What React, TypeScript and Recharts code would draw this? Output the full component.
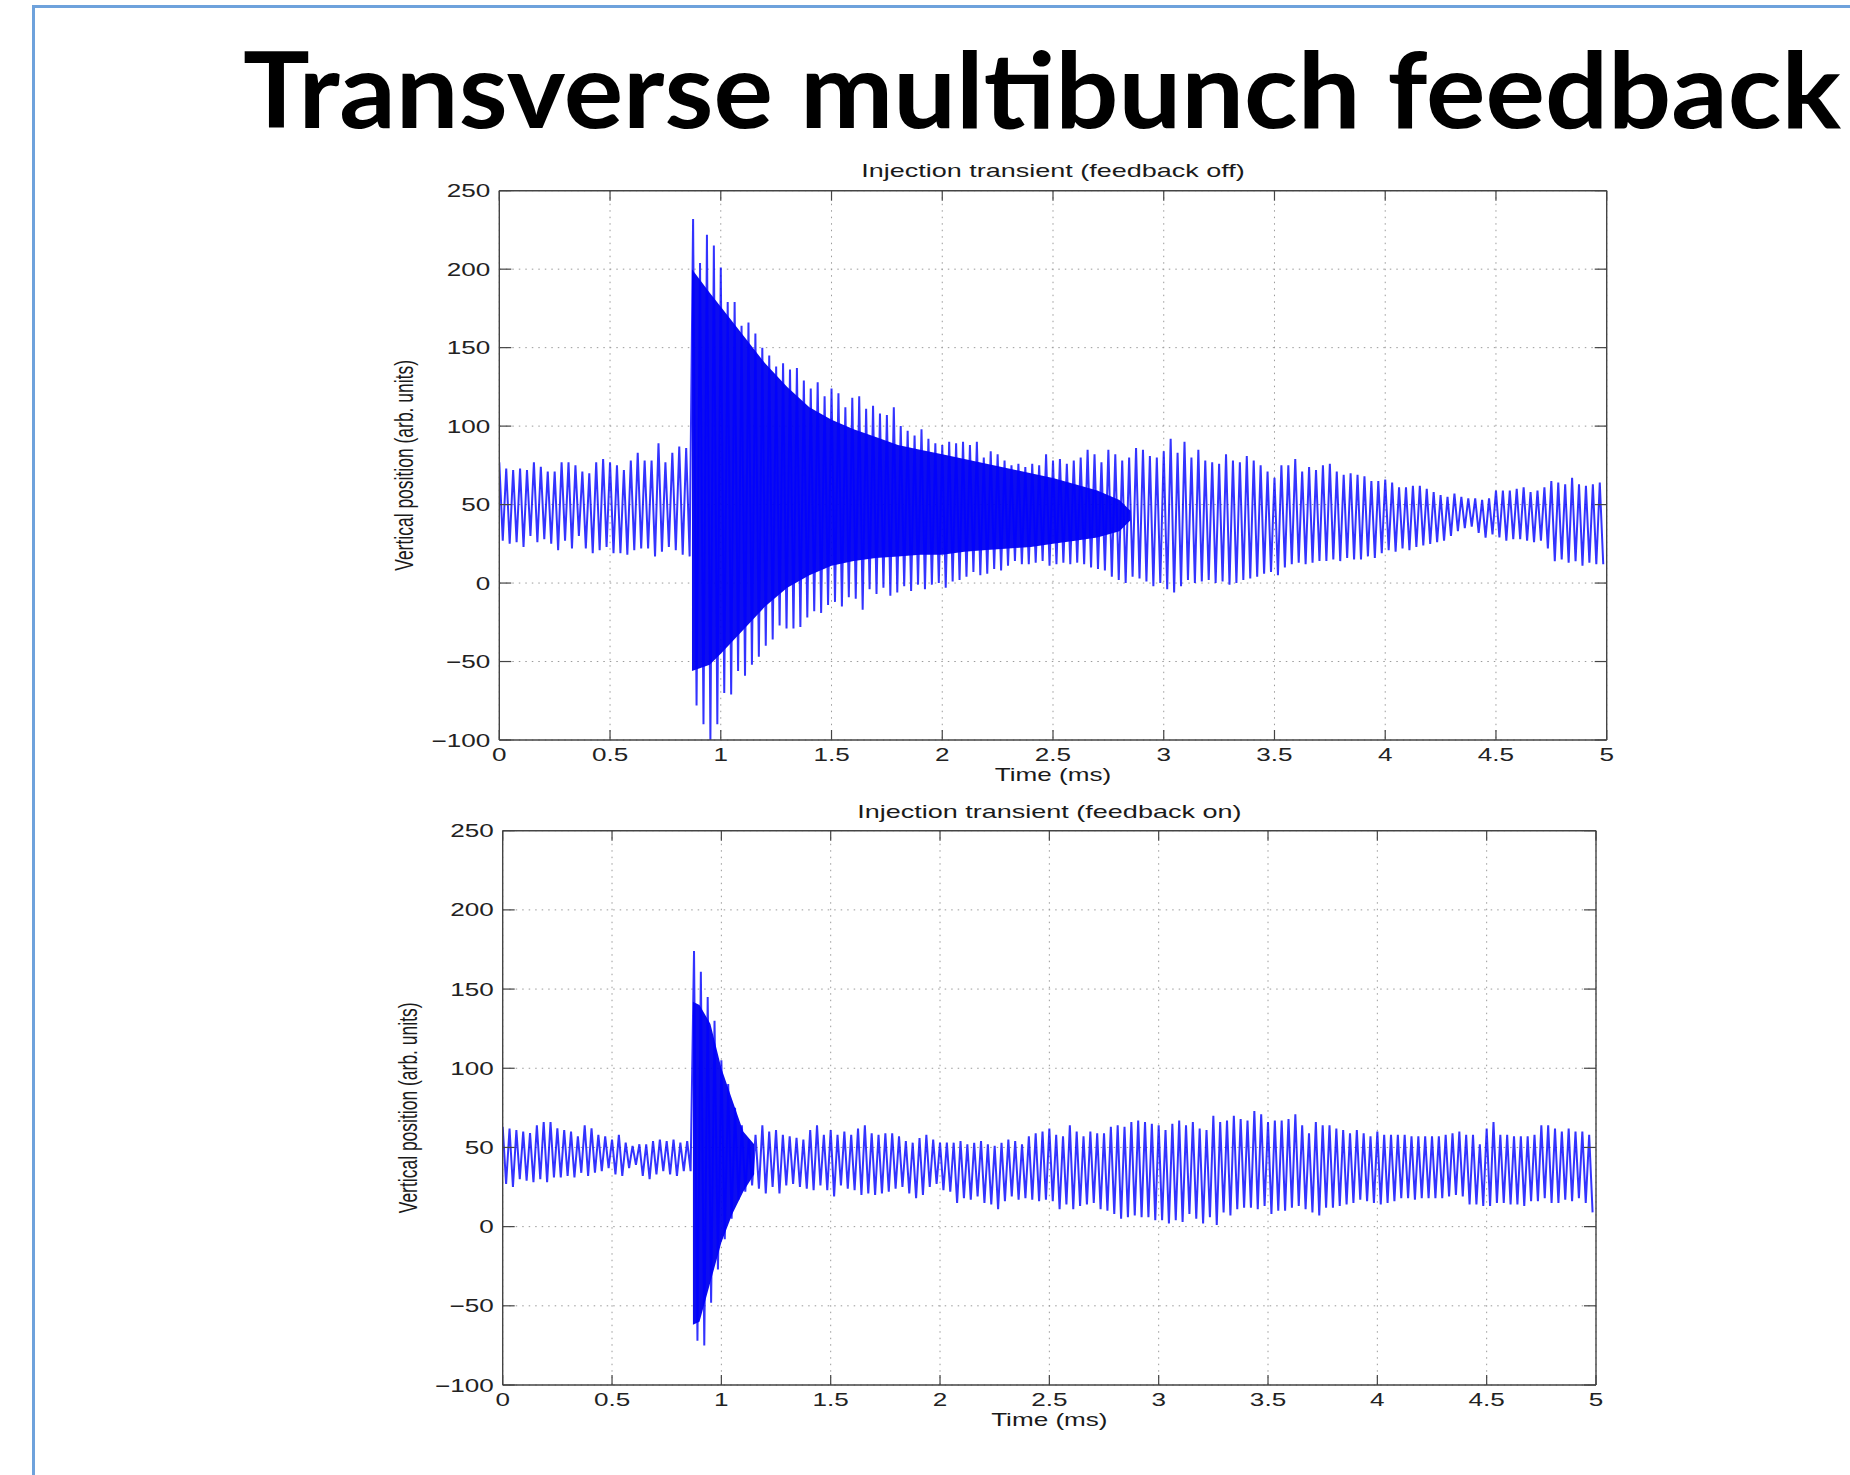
import React from "react";
import { ComposedChart, Line, Area, XAxis, YAxis, CartesianGrid } from "recharts";

// ---------- data ----------
const STEP = 5 / 160; // ms between successive oscillation peaks
const X_TICKS = [0, 0.5, 1, 1.5, 2, 2.5, 3, 3.5, 4, 4.5, 5];
const Y_TICKS = [-100, -50, 0, 50, 100, 150, 200, 250];

// Injection transient, feedback off: upper / lower peaks of the oscillation
const offHigh = [
  77, 73, 72, 73, 72, 77, 74, 71, 71, 77, 77, 75, 71, 70, 77, 79, 77, 75, 72, 78, 83, 78, 78, 89, 77, 83, 87, 86,
  232, 204, 222, 215, 201, 179, 179, 164, 166, 159, 150, 145, 138, 140, 136, 137, 129, 124, 128, 119, 124, 121, 112, 118, 119, 111, 113,
  108, 107, 112, 100, 97, 94, 98, 92, 89, 88, 90, 89, 90, 88, 90, 80, 84, 82, 78, 75, 76, 74, 76, 75, 82, 78, 79, 76, 78, 80, 85, 82, 77, 85, 82, 78, 80, 86, 85, 81, 80, 84,
  92, 83, 90, 80, 85, 78, 77, 76, 82, 78, 77, 81, 78, 75, 71, 67, 75, 75, 79, 71, 74, 72, 75, 76, 71, 69, 70, 69, 68, 65, 65, 66, 64, 61, 61, 62, 62, 60, 58, 56, 55, 57, 55, 54, 54, 53, 54, 59, 59, 59, 60, 61, 58, 59, 61, 65, 64, 63, 67, 63, 62, 63, 64,
];
const offLow = [
  27, 25, 26, 23, 30, 26, 28, 25, 21, 27, 22, 30, 22, 19, 21, 23, 19, 19, 18, 21, 22, 22, 17, 20, 23, 21, 18, 17,
  -78, -90, -100, -90, -70, -71, -56, -59, -52, -47, -40, -36, -27, -29, -29, -28, -22, -18, -19, -14, -12, -15, -9, -10, -17, -4, -7,
  -3, -8, -6, -2, -5, -1, -4, -1, 0, -3, 1, 2, 4, 7, 5, 6, 9, 8, 11, 14, 12, 12, 13, 14, 11, 12, 13, 12, 13, 12, 10, 9, 8, 4, 2, 0, 4, 3, 1, -2, 0, -4,
  -6, -2, 2, 0, 1, 2, 0, 1, -1, 0, 2, 3, 4, 6, 7, 5, 10, 12, 13, 12, 13, 14, 14, 15, 14, 16, 15, 15, 17, 16, 19, 21, 20, 22, 21, 23, 24, 25, 26, 27, 30, 33, 35, 36, 32, 29, 31, 29, 27, 28, 28, 27, 26, 27, 22, 14, 15, 13, 14, 11, 13, 12, 12,
];
// dense (solid) core of the feedback-off transient
const offCoreTime = [0.87, 0.95, 1.0, 1.1, 1.2, 1.3, 1.4, 1.5, 1.6, 1.7, 1.8, 1.9, 2.0, 2.1, 2.2, 2.3, 2.4, 2.5, 2.6, 2.7, 2.8, 2.85];
const offCoreLow = [-56, -52, -45, -30, -15, -3, 5, 11, 14, 16, 17, 18, 18, 20, 21, 22, 23, 25, 27, 29, 33, 40];
const offCoreHigh = [200, 185, 176, 158, 140, 125, 112, 104, 98, 93, 88, 85, 82, 79, 76, 73, 70, 67, 63, 59, 53, 46];

// Injection transient, feedback on
const onHigh = [
  63, 62, 61, 60, 59, 64, 66, 66, 62, 61, 60, 57, 64, 62, 58, 57, 55, 58, 53, 51, 52, 52, 54, 55, 54, 55, 53, 54,
  174, 161, 145, 130, 105, 90, 75, 64, 55, 58, 64, 60, 61, 58, 57, 56, 55, 61, 64, 58, 61, 58, 60, 58, 62, 64, 59, 58, 59, 59, 57, 54, 53, 56, 58, 55, 53, 53, 53, 54, 52, 53, 54, 52, 51, 53, 55, 54, 52, 57, 59, 60, 62, 58, 57, 64, 60, 57, 60, 59, 59, 63, 64, 63, 66, 67, 66, 65, 64,
  61, 65, 67, 64, 66, 62, 61, 70, 66, 67, 70, 68, 67, 73, 71, 66, 67, 67, 68, 71, 64, 59, 66, 64, 64, 62, 61, 59, 61, 59, 57, 60, 58, 58, 58, 58, 57, 57, 57, 57, 57, 58, 59, 60, 58, 58, 52, 62, 66, 58, 58, 57, 57, 57, 58, 64, 64, 62, 60, 62, 60, 60, 58,
];
const onLow = [
  27, 25, 30, 29, 28, 30, 28, 31, 31, 32, 31, 34, 32, 34, 35, 37, 33, 32, 37, 39, 32, 30, 33, 35, 33, 32, 35, 35,
  -72, -75, -48, -27, -8, 5, 17, 22, 26, 24, 21, 25, 21, 26, 27, 25, 24, 23, 26, 23, 19, 26, 24, 23, 20, 21, 20, 21, 22, 24, 25, 21, 18, 20, 25, 27, 23, 22, 15, 18, 17, 19, 15, 14, 11, 16, 19, 17, 18, 17, 16, 17, 16, 11, 14, 11, 13, 14, 15, 11, 10, 8, 5, 6, 7, 6, 6, 4, 4,
  2, 4, 3, 8, 5, 2, 6, 1, 9, 7, 11, 12, 12, 11, 13, 8, 10, 10, 12, 13, 11, 9, 7, 12, 12, 13, 14, 15, 17, 16, 15, 14, 15, 16, 18, 18, 17, 18, 18, 18, 18, 19, 20, 19, 14, 14, 13, 13, 15, 15, 14, 14, 13, 16, 16, 18, 15, 15, 17, 16, 18, 15, 9,
];
const onCoreTime = [0.87, 0.9, 0.95, 1.0, 1.05, 1.1, 1.15];
const onCoreLow = [-62, -60, -35, -10, 8, 22, 33];
const onCoreHigh = [142, 140, 128, 100, 80, 60, 52];

// ---------- helpers ----------
function zigzag(hi: number[], lo: number[]) {
  const pts: { t: number; v: number }[] = [];
  for (let i = 0; i < hi.length; i++) {
    pts.push({ t: i * STEP, v: hi[i] });
    pts.push({ t: i * STEP + STEP / 2, v: lo[i] });
  }
  return pts;
}
function band(t: number[], lo: number[], hi: number[]) {
  return t.map((tt, i) => ({ t: tt, r: [lo[i], hi[i]] }));
}

const FONT = "'Liberation Sans', Arial, Helvetica, sans-serif";
const SX = 1.45;
const AXIS = "#444";
const fmt = (v: number) => (v < 0 ? "\u2212" + Math.abs(v) : String(v));

const BottomTick = (p: any) => (
  <g>
    <line x1={p.x} x2={p.x} y1={p.y} y2={p.y - 10} stroke={AXIS} strokeWidth={1.2} />
    <text transform={`translate(${p.x},${p.y + 21}) scale(${SX},1)`} textAnchor="middle" fontSize={18} fill="#222" fontFamily={FONT}>
      {fmt(p.payload.value)}
    </text>
  </g>
);
const TopTick = (p: any) => <line x1={p.x} x2={p.x} y1={p.y} y2={p.y + 10} stroke={AXIS} strokeWidth={1.2} />;
const LeftTick = (p: any) => (
  <g>
    <line x1={p.x} x2={p.x + 12} y1={p.y} y2={p.y} stroke={AXIS} strokeWidth={1.2} />
    <text transform={`translate(${p.x - 9},${p.y + 6.5}) scale(${SX},1)`} textAnchor="end" fontSize={18} fill="#222" fontFamily={FONT}>
      {fmt(p.payload.value)}
    </text>
  </g>
);
const RightTick = (p: any) => <line x1={p.x} x2={p.x - 12} y1={p.y} y2={p.y} stroke={AXIS} strokeWidth={1.2} />;

type Box = { left: number; top: number; right: number; bottom: number };

function Panel(props: { hi: number[]; lo: number[]; ct: number[]; cl: number[]; ch: number[]; box: Box }) {
  const { box } = props;
  const line = zigzag(props.hi, props.lo);
  const core = band(props.ct, props.cl, props.ch);
  const axisLine = { stroke: AXIS, strokeWidth: 1.4 };
  return (
    <div style={{ position: "absolute", left: 0, top: 0 }}>
      <ComposedChart
        width={1850}
        height={1475}
        data={line}
        margin={{ top: box.top - 1, left: box.left - 1, right: 1850 - box.right - 1, bottom: 1475 - box.bottom - 1 }}
      >
        <XAxis xAxisId="b" dataKey="t" type="number" domain={[0, 5]} ticks={X_TICKS} height={1} tickSize={0} tickMargin={0}
          tickLine={false} axisLine={axisLine} tick={<BottomTick />} allowDataOverflow interval={0} />
        <XAxis xAxisId="t" orientation="top" dataKey="t" type="number" domain={[0, 5]} ticks={X_TICKS} height={1} tickSize={0}
          tickMargin={0} tickLine={false} axisLine={axisLine} tick={<TopTick />} allowDataOverflow interval={0} />
        <YAxis yAxisId="l" type="number" domain={[-100, 250]} ticks={Y_TICKS} width={1} tickSize={0} tickMargin={0}
          tickLine={false} axisLine={axisLine} tick={<LeftTick />} allowDataOverflow interval={0} />
        <YAxis yAxisId="r" orientation="right" type="number" domain={[-100, 250]} ticks={Y_TICKS} width={1} tickSize={0}
          tickMargin={0} tickLine={false} axisLine={axisLine} tick={<RightTick />} allowDataOverflow interval={0} />
        <CartesianGrid xAxisId="b" yAxisId="l" stroke="#9a9a9a" strokeDasharray="1.5 5" strokeWidth={1} />
        <Area xAxisId="b" yAxisId="l" data={core} dataKey="r" type="linear" stroke="none" fill="#0000ee" fillOpacity={0.95}
          isAnimationActive={false} />
        <Line xAxisId="b" yAxisId="l" dataKey="v" type="linear" stroke="#0000ff" strokeOpacity={0.8} strokeWidth={2}
          dot={false} isAnimationActive={false} />
      </ComposedChart>
    </div>
  );
}

const BOX1: Box = { left: 499.3, top: 190.7, right: 1606.7, bottom: 740 };
const BOX2: Box = { left: 502.7, top: 830.7, right: 1596, bottom: 1385 };

function Labels() {
  const c1 = (BOX1.left + BOX1.right) / 2;
  const c2 = (BOX2.left + BOX2.right) / 2;
  const m1 = (BOX1.top + BOX1.bottom) / 2;
  const m2 = (BOX2.top + BOX2.bottom) / 2;
  const txt = { fontFamily: FONT, fontSize: 18, fill: "#1a1a1a", textAnchor: "middle" as const };
  return (
    <svg width={1850} height={1475} style={{ position: "absolute", left: 0, top: 0, pointerEvents: "none" }}>
      <text x={243} y={128} fontFamily="Lato, 'Open Sans', sans-serif" fontWeight={700} fontSize={105} fill="#000"
        textLength={1598} lengthAdjust="spacingAndGlyphs">
        Transverse multibunch feedback
      </text>
      <text transform={`translate(${c1},${BOX1.top - 14}) scale(1.5,1)`} {...txt}>Injection transient (feedback off)</text>
      <text transform={`translate(${c1},${BOX1.bottom + 41}) scale(${SX},1)`} {...txt}>Time (ms)</text>
      <text transform={`translate(404,${m1}) scale(${SX},1) rotate(-90)`} y={6} {...txt} fontSize={17.5}>
        Vertical position (arb. units)
      </text>
      <text transform={`translate(${c2},${BOX2.top - 13}) scale(1.5,1)`} {...txt}>Injection transient (feedback on)</text>
      <text transform={`translate(${c2},${BOX2.bottom + 41}) scale(${SX},1)`} {...txt}>Time (ms)</text>
      <text transform={`translate(408,${m2}) scale(${SX},1) rotate(-90)`} y={6} {...txt} fontSize={17.5}>
        Vertical position (arb. units)
      </text>
    </svg>
  );
}

export default function App() {
  return (
    <div style={{ position: "absolute", left: 0, top: 0, width: 1850, height: 1475, overflow: "hidden", background: "#fff" }}>
      <div style={{ position: "absolute", left: 32, top: 5, width: 1900, height: 1500,
        borderLeft: "3px solid #6ea2dc", borderTop: "3px solid #6ea2dc" }} />
      <Panel hi={offHigh} lo={offLow} ct={offCoreTime} cl={offCoreLow} ch={offCoreHigh} box={BOX1} />
      <Panel hi={onHigh} lo={onLow} ct={onCoreTime} cl={onCoreLow} ch={onCoreHigh} box={BOX2} />
      <Labels />
    </div>
  );
}
